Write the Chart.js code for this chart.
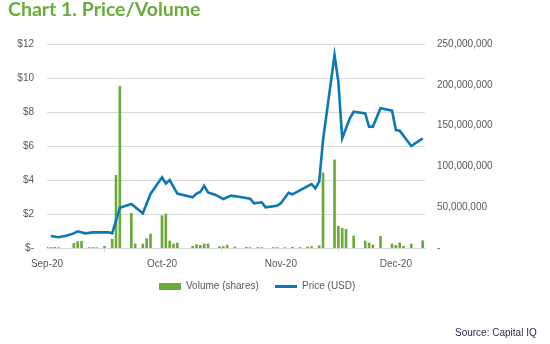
<!DOCTYPE html>
<html>
<head>
<meta charset="utf-8">
<script src="https://cdn.jsdelivr.net/npm/chart.js@4/dist/chart.umd.min.js"></script>
<style>
  body { margin: 0; background: #fff; }
  #wrap { position: relative; width: 550px; height: 344px; background: #fff; font-family: "Liberation Sans", Arial, sans-serif; }
  #chart { position: absolute; left: 0; top: 0; }
  .title { position: absolute; left: 8px; top: -3px; font: bold 19.5px Lato, sans-serif; color: #6aab3c; white-space: nowrap; }
  .legend { position: absolute; top: 280px; left: 0; font-size: 10px; color: #595959; }
  .legend span { position: absolute; white-space: nowrap; }
  .swatch-bar { width: 22px; height: 7px; background: #6aab3c; }
  .swatch-line { width: 22px; height: 3px; background: #0b79b6; }
  .source { position: absolute; left: 455px; top: 327px; font-size: 10px; color: #1f2a48; white-space: nowrap; }
</style>
</head>
<body>
<div id="wrap">
  <canvas id="chart" width="550" height="344"></canvas>
  <div class="title">Chart 1. Price/Volume</div>
  <div class="legend">
    <span class="swatch-bar" style="left:159px;top:3px"></span>
    <span style="left:186px;top:0px">Volume (shares)</span>
    <span class="swatch-line" style="left:275px;top:5px"></span>
    <span style="left:302px;top:0px">Price (USD)</span>
  </div>
  <div class="source">Source: Capital IQ</div>
</div>
<script>
/* ================= DATA ================= */
// days counted from 1 Sep 2020
const monthTickDays = [0, 30, 61, 91];
const monthLabels = ['Sep-20', 'Oct-20', 'Nov-20', 'Dec-20'];

const priceDays = [1, 3, 5, 7, 8, 10, 12, 16, 17, 19, 22, 25, 27, 30, 31, 32, 34, 38, 39, 40,
    41, 42, 44, 46, 48, 50, 53, 54, 56, 57, 60, 61, 63, 64, 69, 70, 71, 72, 75, 76,
    77, 79, 80, 83, 84, 85, 87, 90, 91, 92, 95, 98];
const priceUSD = [0.71, 0.63, 0.72, 0.86, 0.98, 0.86, 0.92, 0.92, 0.86, 2.37, 2.59, 2.04, 3.18, 4.16, 3.80, 4.00, 3.20, 2.98, 3.20, 3.30,
    3.66, 3.27, 3.12, 2.88, 3.08, 3.02, 2.90, 2.63, 2.69, 2.39, 2.49, 2.63, 3.25, 3.16, 3.76, 3.51, 3.90, 6.35, 11.35, 9.78,
    6.45, 7.63, 8.02, 7.92, 7.14, 7.14, 8.22, 8.08, 6.94, 6.90, 6.00, 6.45];

const volumeDays = [0, 1, 2, 3, 7, 8, 9, 11, 12, 13, 15, 17, 18, 19, 22, 23, 25, 26, 27, 30,
    31, 32, 33, 34, 38, 39, 40, 41, 42, 45, 46, 47, 49, 52, 53, 55, 56, 59, 60, 62,
    64, 66, 68, 69, 71, 72, 75, 76, 77, 78, 80, 83, 84, 85, 87, 90, 91, 92, 93, 95, 98];
const volumeShares = [0.8e6, 0.6e6, 0.8e6, 0.5e6, 5.7e6, 7.9e6, 8.3e6, 0.5e6, 0.6e6, 0.4e6, 2.1e6, 10.8e6, 89e6, 198e6, 42.5e6, 4.9e6, 4.9e6, 11.4e6, 17.2e6, 39.6e6,
    41.7e6, 8.6e6, 4.9e6, 6e6, 2.1e6, 4.1e6, 3.3e6, 5e6, 5e6, 1.6e6, 1.8e6, 3.5e6, 1.25e6, 0.7e6, 0.5e6, 0.6e6, 0.5e6, 0.5e6, 0.5e6, 0.4e6,
    0.8e6, 0.6e6, 1.25e6, 1.7e6, 2.8e6, 92e6, 108e6, 26.7e6, 24.2e6, 22.9e6, 14.7e6, 8.6e6, 6.2e6, 3.7e6, 14.3e6, 4.9e6, 3.3e6, 6.2e6, 2.1e6, 4.9e6, 8.9e6];

/* ================= CHART ================= */
const GREEN = '#6aab3c';
const BLUE = '#0b79b6';
const GRID = '#d9d9d9';
const TEXT = '#595959';
const tickFont = { family: '"Liberation Sans", Arial, sans-serif', size: 10 };

new Chart(document.getElementById('chart'), {
    type: 'bar',
    data: {
        datasets: [
            {
                type: 'line',
                label: 'Price (USD)',
                data: priceDays.map((d, i) => ({ x: d, y: priceUSD[i] })),
                borderColor: BLUE,
                borderWidth: 2.6,
                pointRadius: 0,
                tension: 0,
                yAxisID: 'y',
                order: 0
            },
            {
                type: 'bar',
                label: 'Volume (shares)',
                data: volumeDays.map((d, i) => ({ x: d, y: volumeShares[i] })),
                backgroundColor: GREEN,
                barThickness: 2,
                yAxisID: 'yVol',
                order: 1
            }
        ]
    },
    options: {
        responsive: false,
        animation: false,
        layout: { padding: { top: 44, bottom: 70, left: 0, right: 0 } },
        plugins: { legend: { display: false }, tooltip: { enabled: false } },
        scales: {
            x: {
                type: 'linear',
                min: 0,
                max: 98.6,
                offset: false,
                afterBuildTicks: axis => { axis.ticks = monthTickDays.map(v => ({ value: v })); },
                afterFit: axis => { axis.height = 26; },
                ticks: {
                    font: tickFont,
                    color: TEXT,
                    padding: 6,
                    maxRotation: 0,
                    callback: v => monthLabels[monthTickDays.indexOf(v)]
                },
                grid: { drawOnChartArea: false, drawTicks: true, tickLength: 4, color: GRID },
                border: { color: GRID }
            },
            y: {
                position: 'left',
                min: 0,
                max: 12,
                afterFit: axis => { axis.width = 47; },
                ticks: {
                    stepSize: 2,
                    font: tickFont,
                    color: TEXT,
                    padding: 13,
                    callback: v => v === 0 ? '$-' : '$' + v
                },
                grid: { color: GRID, drawTicks: false },
                border: { display: false }
            },
            yVol: {
                position: 'right',
                min: 0,
                max: 250e6,
                afterFit: axis => { axis.width = 125; },
                ticks: {
                    stepSize: 50e6,
                    font: tickFont,
                    color: TEXT,
                    padding: 12,
                    callback: v => v === 0 ? '-' : v.toLocaleString('en-US')
                },
                grid: { display: false, drawTicks: false },
                border: { display: false }
            }
        }
    }
});
</script>
</body>
</html>
